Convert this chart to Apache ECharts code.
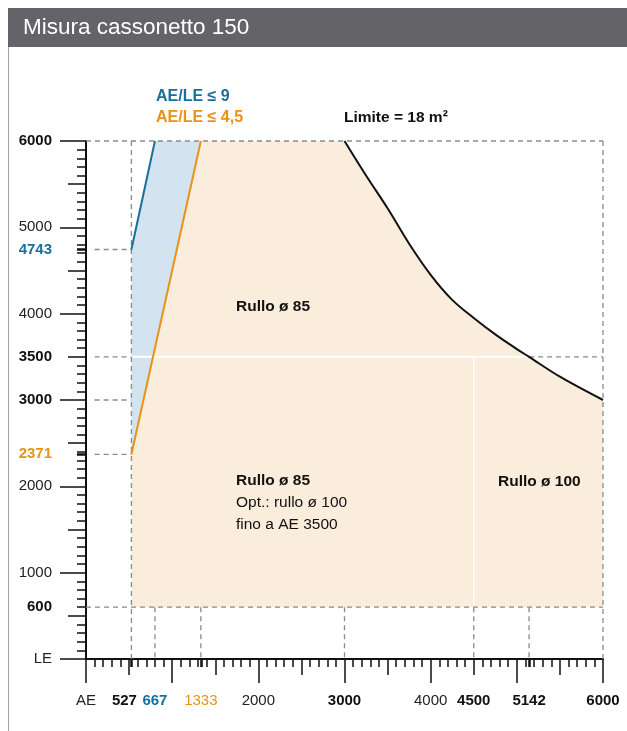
<!DOCTYPE html>
<html>
<head>
<meta charset="utf-8">
<script src="https://cdn.jsdelivr.net/npm/echarts@6/dist/echarts.min.js"></script>
<style>html,body{margin:0;padding:0;background:#fff}#c{width:627px;height:731px}</style>
</head>
<body>
<div id="c"></div>
<script>
// ---- data ----
const titleText = 'Misura cassonetto 150';
// x (AE) tick labels: drawn position, text, style
const xLabelValues = [0, 527, 800, 1333, 2000, 3000, 4000, 4500, 5142, 6000];
const xLabelTexts  = ['AE', '527', '667', '1333', '2000', '3000', '4000', '4500', '5142', '6000'];
const xLabelStyles = ['n', 'bl', 'blue', 'orange', 'n', 'b', 'n', 'b', 'b', 'b'];
// y (LE) tick labels
const yLabelValues = [0, 600, 1000, 2000, 2371, 3000, 3500, 4000, 4743, 5000, 6000];
const yLabelTexts  = ['LE', '600', '1000', '2000', '2371', '3000', '3500', '4000', '4743', '5000', '6000'];
const yLabelStyles = ['n', 'b', 'n', 'n', 'orange', 'b', 'b', 'n', 'blue', 'n', 'b'];
// special (bold) ticks
const xSpecialTicks = [527, 1333, 5142];
const ySpecialTicks = [2371, 4743];
// AE/LE <= 9 line (667 drawn at 800 in reference)
const ratio9Line = [[527, 4743], [800, 6000]];
// AE/LE <= 4,5 line
const ratio45Line = [[527, 2371], [1333, 6000]];
// Limite = 18 m2 curve
const limitCurve = [[3000, 6000], [3250, 5600], [3500, 5220], [3750, 4810], [4000, 4450], [4250, 4160],
                    [4500, 3950], [4750, 3760], [5000, 3590], [5142, 3500], [5500, 3270], [6000, 3000]];
// blue region
const blueRegion = [[527, 2371], [527, 4743], [800, 6000], [1333, 6000]];
// peach region corners
const peachStart = [[527, 600], [527, 2371], [1333, 6000]];
const peachEnd = [[6000, 600]];
// white separators
const whiteLines = [[[527, 3500], [5142, 3500]], [[4500, 600], [4500, 3500]]];
// dashed reference lines
const dashedLines = [
  [[0, 6000], [6000, 6000]], [[6000, 6000], [6000, 0]], [[0, 600], [6000, 600]],
  [[527, 6000], [527, 0]], [[800, 600], [800, 0]], [[1333, 600], [1333, 0]],
  [[3000, 600], [3000, 0]], [[4500, 600], [4500, 0]], [[5142, 600], [5142, 0]],
  [[100, 4743], [527, 4743]], [[100, 3500], [527, 3500]], [[100, 3000], [527, 3000]],
  [[100, 2371], [527, 2371]], [[5142, 3500], [6000, 3500]]
];

// ---- styling ----
const FONT = "'Liberation Sans', Arial, Helvetica, sans-serif";
const BLUE = '#17709b', ORANGE = '#e8921a';
const peachRegion = peachStart.concat(limitCurve, peachEnd);

function range(a, b, step, filt) { const r = []; for (let v = a; v <= b; v += step) if (!filt || filt(v)) r.push(v); return r; }
const minorT = range(0, 6000, 100, v => v % 500 !== 0);
const medT = range(500, 6000, 1000);
const longT = range(0, 6000, 1000);

const rich = {
  n:  { fontFamily: FONT, fontSize: 15, color: '#222' },
  b:  { fontFamily: FONT, fontSize: 15, color: '#111', fontWeight: 'bold' },
  bl: { fontFamily: FONT, fontSize: 15, color: '#111', fontWeight: 'bold', padding: [0, 14, 0, 0] },
  blue: { fontFamily: FONT, fontSize: 15, color: BLUE, fontWeight: 'bold' },
  orange: { fontFamily: FONT, fontSize: 15, color: ORANGE, fontWeight: 'bold' }
};
const richX = Object.assign({}, rich, { orange: { fontFamily: FONT, fontSize: 15, color: ORANGE } });

function fmt(values, texts, styles) {
  return v => { const i = values.indexOf(v); return i < 0 ? '' : '{' + styles[i] + '|' + texts[i] + '}'; };
}

function xAx(ticks, len, width, withLine, withLabel) {
  return {
    type: 'value', min: 0, max: 6000, position: 'bottom', splitLine: { show: false },
    axisLine: { show: withLine, onZero: false, lineStyle: { color: '#111', width: 2 } },
    axisTick: { show: true, customValues: ticks, length: len, lineStyle: { color: '#111', width: width } },
    axisLabel: withLabel ? { show: true, customValues: xLabelValues, margin: 34, formatter: fmt(xLabelValues, xLabelTexts, xLabelStyles), rich: richX } : { show: false }
  };
}
function yAx(ticks, len, width, withLine, withLabel) {
  return {
    type: 'value', min: 0, max: 6000, position: 'left', splitLine: { show: false },
    axisLine: { show: withLine, onZero: false, lineStyle: { color: '#111', width: 2 } },
    axisTick: { show: true, customValues: ticks, length: len, lineStyle: { color: '#111', width: width } },
    axisLabel: withLabel ? { show: true, customValues: yLabelValues, margin: 34, formatter: fmt(yLabelValues, yLabelTexts, yLabelStyles), rich: rich } : { show: false }
  };
}

const chart = echarts.init(document.getElementById('c'), null, { renderer: 'canvas' });
chart.setOption({
  animation: false,
  backgroundColor: '#fff',
  grid: { left: 86, right: 24, top: 141, bottom: 72, containLabel: false, outerBoundsMode: 'none' },
  xAxis: [xAx(minorT, 8, 1.5, true, true), xAx(medT, 16, 1.5, false, false), xAx(longT, 24, 1.5, false, false), xAx(xSpecialTicks, 8, 2.5, false, false)],
  yAxis: [yAx(minorT, 9, 1.5, true, true), yAx(medT, 18, 1.5, false, false), yAx(longT, 26, 1.5, false, false), yAx(ySpecialTicks, 9, 2.5, false, false)],
  graphic: [
    { type: 'rect', shape: { x: 8, y: 8, width: 619, height: 39 }, style: { fill: '#636368' } },
    { type: 'text', x: 23, y: 28, style: { text: titleText, fill: '#fff', font: '22.5px ' + FONT, textVerticalAlign: 'middle' } },
    { type: 'line', shape: { x1: 8.5, y1: 47, x2: 8.5, y2: 731 }, style: { stroke: '#a0a0a0', lineWidth: 1 } },
    { type: 'text', x: 156, y: 97, style: { text: 'AE/LE ≤ 9', fill: BLUE, font: 'bold 16px ' + FONT, textVerticalAlign: 'middle' } },
    { type: 'text', x: 156, y: 118, style: { text: 'AE/LE ≤ 4,5', fill: ORANGE, font: 'bold 16px ' + FONT, textVerticalAlign: 'middle' } },
    { type: 'text', x: 344, y: 118, style: { text: 'Limite = 18 m²', fill: '#111', font: 'bold 15.5px ' + FONT, textVerticalAlign: 'middle' } },
    { type: 'text', x: 236, y: 307, z: 100, style: { text: 'Rullo ø 85', fill: '#111', font: 'bold 15.5px ' + FONT, textVerticalAlign: 'middle' } },
    { type: 'text', x: 236, y: 481, z: 100, style: { text: 'Rullo ø 85', fill: '#111', font: 'bold 15.5px ' + FONT, textVerticalAlign: 'middle' } },
    { type: 'text', x: 236, y: 503, z: 100, style: { text: 'Opt.: rullo ø 100', fill: '#111', font: '15.5px ' + FONT, textVerticalAlign: 'middle' } },
    { type: 'text', x: 236, y: 525, z: 100, style: { text: 'fino a AE 3500', fill: '#111', font: '15.5px ' + FONT, textVerticalAlign: 'middle' } },
    { type: 'text', x: 498, y: 482, z: 100, style: { text: 'Rullo ø 100', fill: '#111', font: 'bold 15.5px ' + FONT, textVerticalAlign: 'middle' } }
  ],
  series: [
    { type: 'custom', z: 1, silent: true, data: [[0, 0]], clip: false,
      renderItem: (p, api) => ({ type: 'polygon', shape: { points: peachRegion.map(pt => api.coord(pt)) }, style: { fill: '#fbeddc' } }) },
    { type: 'custom', z: 2, silent: true, data: [[0, 0]], clip: false,
      renderItem: (p, api) => ({ type: 'polygon', shape: { points: blueRegion.map(pt => api.coord(pt)) }, style: { fill: '#d3e4f0' } }) },
    { type: 'custom', z: 3, silent: true, data: [[0, 0]], clip: false,
      renderItem: (p, api) => ({ type: 'group', children: whiteLines.map((s, i) => { const a = api.coord(s[0]), b = api.coord(s[1]);
        return { type: 'line', shape: { x1: a[0], y1: a[1], x2: b[0], y2: b[1] }, style: { stroke: '#fff', lineWidth: i === 0 ? 2 : 1.5 } }; }) }) },
    { type: 'custom', z: 4, silent: true, data: [[0, 0]], clip: false,
      renderItem: (p, api) => ({ type: 'group', children: dashedLines.map(s => { const a = api.coord(s[0]), b = api.coord(s[1]);
        return { type: 'line', shape: { x1: a[0], y1: a[1], x2: b[0], y2: b[1] }, style: { stroke: '#8a8a8a', lineWidth: 1.3, lineDash: [5, 4] } }; }) }) },
    { type: 'line', z: 5, data: ratio9Line, showSymbol: false, silent: true, lineStyle: { color: BLUE, width: 2 } },
    { type: 'line', z: 5, data: ratio45Line, showSymbol: false, silent: true, lineStyle: { color: ORANGE, width: 2 } },
    { type: 'line', z: 6, data: limitCurve, smooth: 0.35, showSymbol: false, silent: true, lineStyle: { color: '#111', width: 2 } }
  ]
});
</script>
</body>
</html>
